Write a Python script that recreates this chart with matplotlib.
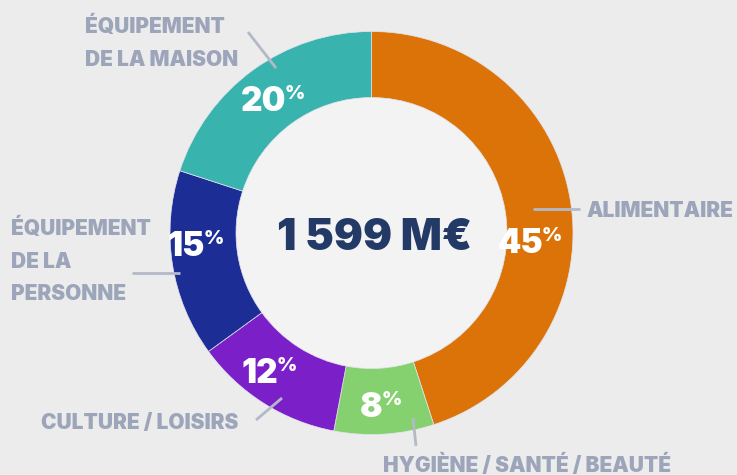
import matplotlib.pyplot as plt
from matplotlib.patches import Circle

# données
categories = ['ALIMENTAIRE', 'HYGIÈNE / SANTÉ / BEAUTÉ', 'CULTURE / LOISIRS',
              'ÉQUIPEMENT DE LA PERSONNE', 'ÉQUIPEMENT DE LA MAISON']
parts = [45, 8, 12, 15, 20]
total_label = '1 599 M€'
colors = ['#dc7308', '#86d16f', '#7b20c8', '#1c2e96', '#38b3ad']

W, H = 737, 475
def Y(y):
    return H - y

fig = plt.figure(figsize=(W / 100, H / 100), dpi=100)
fig.patch.set_facecolor('#ececec')
ax = fig.add_axes([0, 0, 1, 1])
ax.set_xlim(0, W)
ax.set_ylim(0, H)
ax.set_aspect('equal')
ax.axis('off')

cx, cy, r = 371.5, Y(233), 201.5
ring = 66

ax.add_patch(Circle((cx, cy), r - ring, facecolor='#f3f3f3', edgecolor='none', zorder=0))
ax.pie(parts, colors=colors, startangle=90, counterclock=False,
       center=(cx, cy), radius=r, frame=True,
       wedgeprops=dict(width=ring, edgecolor='#e4e4ee', linewidth=0.5))
ax.set_xlim(0, W)
ax.set_ylim(0, H)
ax.axis('off')

font = 'Inter'
gray = '#9ca5b9'

# pourcentages (bord droit du nombre, ligne de base)
pct_pos = [(543, 253), (383, 417), (278, 383), (205, 256), (286, 111)]
for v, (x, y) in zip(parts, pct_pos):
    ax.text(x, Y(y), str(v), color='white', fontsize=24, fontweight=900,
            family=font, ha='right', va='baseline')
    ax.text(x - 1, Y(y - 26), '%', color='white', fontsize=14, fontweight=900,
            family=font, ha='left', va='top')

ax.text(cx + 3, Y(250), total_label, color='#243a66', fontsize=31, fontweight=900,
        family=font, ha='center', va='baseline')

# étiquettes
label_lines = [['ALIMENTAIRE'], ['HYGIÈNE / SANTÉ / BEAUTÉ'], ['CULTURE / LOISIRS'],
               ['ÉQUIPEMENT', 'DE LA', 'PERSONNE'], ['ÉQUIPEMENT', 'DE LA MAISON']]
label_pos = [(587, 217), (383, 472), (41, 429), (11, 235), (85, 33)]
line_gap = 32.5
for lines, (x, y) in zip(label_lines, label_pos):
    for i, s in enumerate(lines):
        ax.text(x, Y(y + i * line_gap), s, color=gray, fontsize=15, fontweight=900,
                family=font, ha='left', va='baseline')

leaders = [((533, 580), (209, 209)), ((413, 416), (418, 446)), ((256, 282), (420, 398)),
           ((132, 180), (273, 273)), ((248, 276), (32, 68))]
for xs, ys in leaders:
    ax.plot(xs, [Y(v) for v in ys], color='#b4b9c8', lw=2, solid_capstyle='butt')

fig.savefig('out.png', dpi=100, facecolor=fig.get_facecolor())
